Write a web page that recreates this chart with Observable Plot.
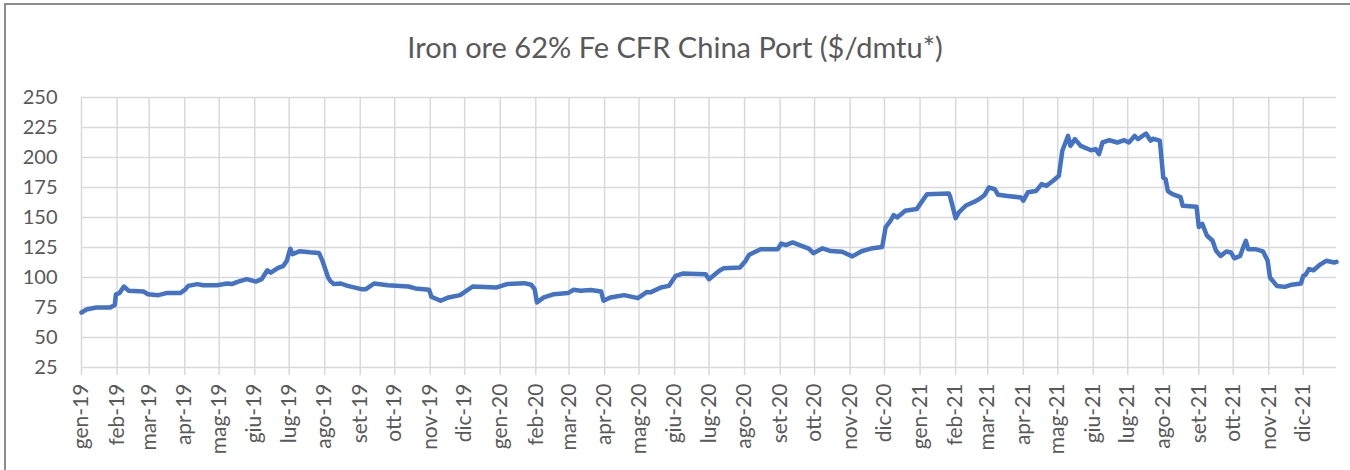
<!DOCTYPE html>
<html>
<head>
<meta charset="utf-8">
<script src="https://cdn.jsdelivr.net/npm/d3@7"></script>
<script src="https://cdn.jsdelivr.net/npm/@observablehq/plot@0.6"></script>
<style>
  html, body { margin: 0; padding: 0; background: #fff; }
  #wrap { position: relative; width: 1350px; height: 470px; overflow: hidden; background: #fff; }
  #frame { position: absolute; left: 4px; top: 3px; width: 1360px; height: 480px;
           border-left: 2px solid #8c8c8c; border-top: 2px solid #8c8c8c; pointer-events: none; }
  #title { height: 50px; padding-top: 30px; line-height: 34px; text-align: center;
           font-family: Lato, "Open Sans", sans-serif; font-size: 29px; color: #595959; }
</style>
</head>
<body>
<div id="wrap">
  <div id="title">Iron ore 62% Fe CFR China Port ($/dmtu*)</div>
  <div id="chart"></div>
  <div id="frame"></div>
</div>
<script>
const dates = [
"2019-01-01","2019-01-06","2019-01-14","2019-01-26","2019-01-30","2019-01-31","2019-02-03","2019-02-07","2019-02-11","2019-02-24",
"2019-02-28","2019-03-09","2019-03-16","2019-03-28","2019-04-01","2019-04-04","2019-04-12","2019-04-17","2019-04-29","2019-05-08",
"2019-05-12","2019-05-17","2019-05-25","2019-06-02","2019-06-07","2019-06-12","2019-06-15","2019-06-21","2019-06-26","2019-06-29",
"2019-07-02","2019-07-04","2019-07-10","2019-07-19","2019-07-27","2019-07-30","2019-08-02","2019-08-04","2019-08-06","2019-08-09",
"2019-08-15","2019-08-21","2019-09-02","2019-09-06","2019-09-13","2019-09-25","2019-10-13","2019-10-19","2019-10-31","2019-11-02",
"2019-11-10","2019-11-17","2019-11-27","2019-12-08","2019-12-29",
"2020-01-07","2020-01-22","2020-01-28","2020-01-31","2020-02-02","2020-02-08","2020-02-17","2020-02-29","2020-03-05","2020-03-11",
"2020-03-20","2020-03-29","2020-03-31","2020-04-06","2020-04-18","2020-04-30","2020-05-08","2020-05-11","2020-05-20","2020-05-27",
"2020-06-02","2020-06-08","2020-06-28","2020-07-01","2020-07-10","2020-07-14","2020-07-28","2020-08-02","2020-08-05","2020-08-15",
"2020-08-30","2020-09-02","2020-09-06","2020-09-12","2020-09-18","2020-09-26","2020-09-30","2020-10-08","2020-10-15","2020-10-25",
"2020-11-03","2020-11-11","2020-11-19","2020-11-29","2020-12-02","2020-12-06","2020-12-09","2020-12-12","2020-12-19","2020-12-29",
"2021-01-07","2021-01-26","2021-01-27","2021-02-01","2021-02-04","2021-02-10","2021-02-17","2021-02-22","2021-02-26","2021-03-02",
"2021-03-07","2021-03-10","2021-03-18","2021-03-30","2021-04-01","2021-04-05","2021-04-12","2021-04-17","2021-04-21","2021-04-27",
"2021-05-02","2021-05-05","2021-05-10","2021-05-12","2021-05-16","2021-05-21","2021-05-30","2021-06-03","2021-06-06","2021-06-09",
"2021-06-15","2021-06-22","2021-06-28","2021-07-02","2021-07-07","2021-07-10","2021-07-17","2021-07-21","2021-07-23","2021-07-29",
"2021-08-01","2021-08-03","2021-08-05","2021-08-09","2021-08-16","2021-08-18","2021-08-30","2021-09-01","2021-09-04","2021-09-08",
"2021-09-13","2021-09-16","2021-09-20","2021-09-25","2021-09-29","2021-10-02","2021-10-07","2021-10-10","2021-10-12","2021-10-14",
"2021-10-20","2021-10-27","2021-10-31","2021-11-02","2021-11-08","2021-11-15","2021-11-21","2021-11-29","2021-12-01","2021-12-03",
"2021-12-06","2021-12-10","2021-12-16","2021-12-21","2021-12-28","2021-12-30"
];
const prices = [
70.8,73.6,75,75,77,86,87,92.5,89,88.3,
86,85.3,87,87,89.6,93,94.5,93.6,93.6,95,
94.5,96.4,98.6,96.6,98.6,106,104,107.8,109.7,114,
124,119.5,121.9,121,120.5,114,105.6,100,97,94.5,
95,93,90.3,90.3,95,93.6,92.5,90.9,89.8,84,
80.6,83.4,85.3,92.5,91.7,
94.5,95.3,94,90.3,79.2,83.4,86.1,87,89.8,89,
89.6,88.3,80.6,83.4,85.3,82.8,88,87.6,91.7,93,
101.4,103.3,102.8,98.6,105.6,107.8,108.3,114,119,123.6,
123.6,128.3,127,129.2,127,124,120.3,124.3,122,121.5,
117.6,121.9,124.1,125.5,142,147,152,150,155.6,157,
169.4,170,168,149.5,154.4,160,163,165.6,168.5,175,
173.6,169,168,166.7,164,171,172,177.8,176.4,180.6,
184.8,205.6,218,209.7,215.3,209.7,206,207,202.8,212.5,
214.4,212.5,214.4,212.5,218,215.3,220,214,215.6,214,
183.3,182,172,169.4,167,159.7,159,142,144.7,135,
130.6,122.2,118,121.7,120.8,116,118,126,130.6,123.6,
123.6,121.7,113.9,100,93,92.2,94,95,101.4,102.2,
107,106,111,113.9,112.5,113
];
const monthTicks = [
"2019-01-01","2019-02-01","2019-03-01","2019-04-01","2019-05-01","2019-06-01","2019-07-01","2019-08-01","2019-09-01","2019-10-01","2019-11-01","2019-12-01",
"2020-01-01","2020-02-01","2020-03-01","2020-04-01","2020-05-01","2020-06-01","2020-07-01","2020-08-01","2020-09-01","2020-10-01","2020-11-01","2020-12-01",
"2021-01-01","2021-02-01","2021-03-01","2021-04-01","2021-05-01","2021-06-01","2021-07-01","2021-08-01","2021-09-01","2021-10-01","2021-11-01","2021-12-01"
];
const monthLabels = [
"gen-19","feb-19","mar-19","apr-19","mag-19","giu-19","lug-19","ago-19","set-19","ott-19","nov-19","dic-19",
"gen-20","feb-20","mar-20","apr-20","mag-20","giu-20","lug-20","ago-20","set-20","ott-20","nov-20","dic-20",
"gen-21","feb-21","mar-21","apr-21","mag-21","giu-21","lug-21","ago-21","set-21","ott-21","nov-21","dic-21"
];
const yTicks = [25,50,75,100,125,150,175,200,225,250];

const data = dates.map((d, i) => ({date: new Date(d + "T00:00:00Z"), value: prices[i]}));
const tickDates = monthTicks.map(d => new Date(d + "T00:00:00Z"));
const labelOf = d => monthLabels[tickDates.findIndex(t => +t === +d)];

const chart = Plot.plot({
  width: 1350,
  height: 390,
  marginTop: 17,
  marginBottom: 103,
  marginLeft: 81,
  marginRight: 14,
  style: {fontFamily: "Lato, 'Open Sans', sans-serif", fontSize: "20px", color: "#595959", background: "#fff"},
  x: {type: "utc", domain: [new Date("2019-01-01T00:00:00Z"), new Date("2021-12-30T00:00:00Z")]},
  y: {domain: [25, 250]},
  marks: [
    Plot.gridY(yTicks, {stroke: "#d9d9d9", strokeOpacity: 1, strokeWidth: 1.5}),
    Plot.gridX(tickDates, {stroke: "#d9d9d9", strokeOpacity: 1, strokeWidth: 1.5}),
    Plot.axisY(yTicks, {tickSize: 0, tickPadding: 24, fill: "#595959", fontSize: 20, label: null}),
    Plot.axisX(tickDates, {tickSize: 8, tickPadding: 8, tickRotate: -90, stroke: "#d9d9d9", strokeWidth: 1.5, fill: "#595959", fontSize: 21, tickFormat: labelOf, label: null}),
    Plot.line(data, {x: "date", y: "value", stroke: "#4472C4", strokeWidth: 4.5, strokeLinejoin: "round", strokeLinecap: "round"})
  ]
});
document.getElementById("chart").appendChild(chart);
</script>
</body>
</html>
